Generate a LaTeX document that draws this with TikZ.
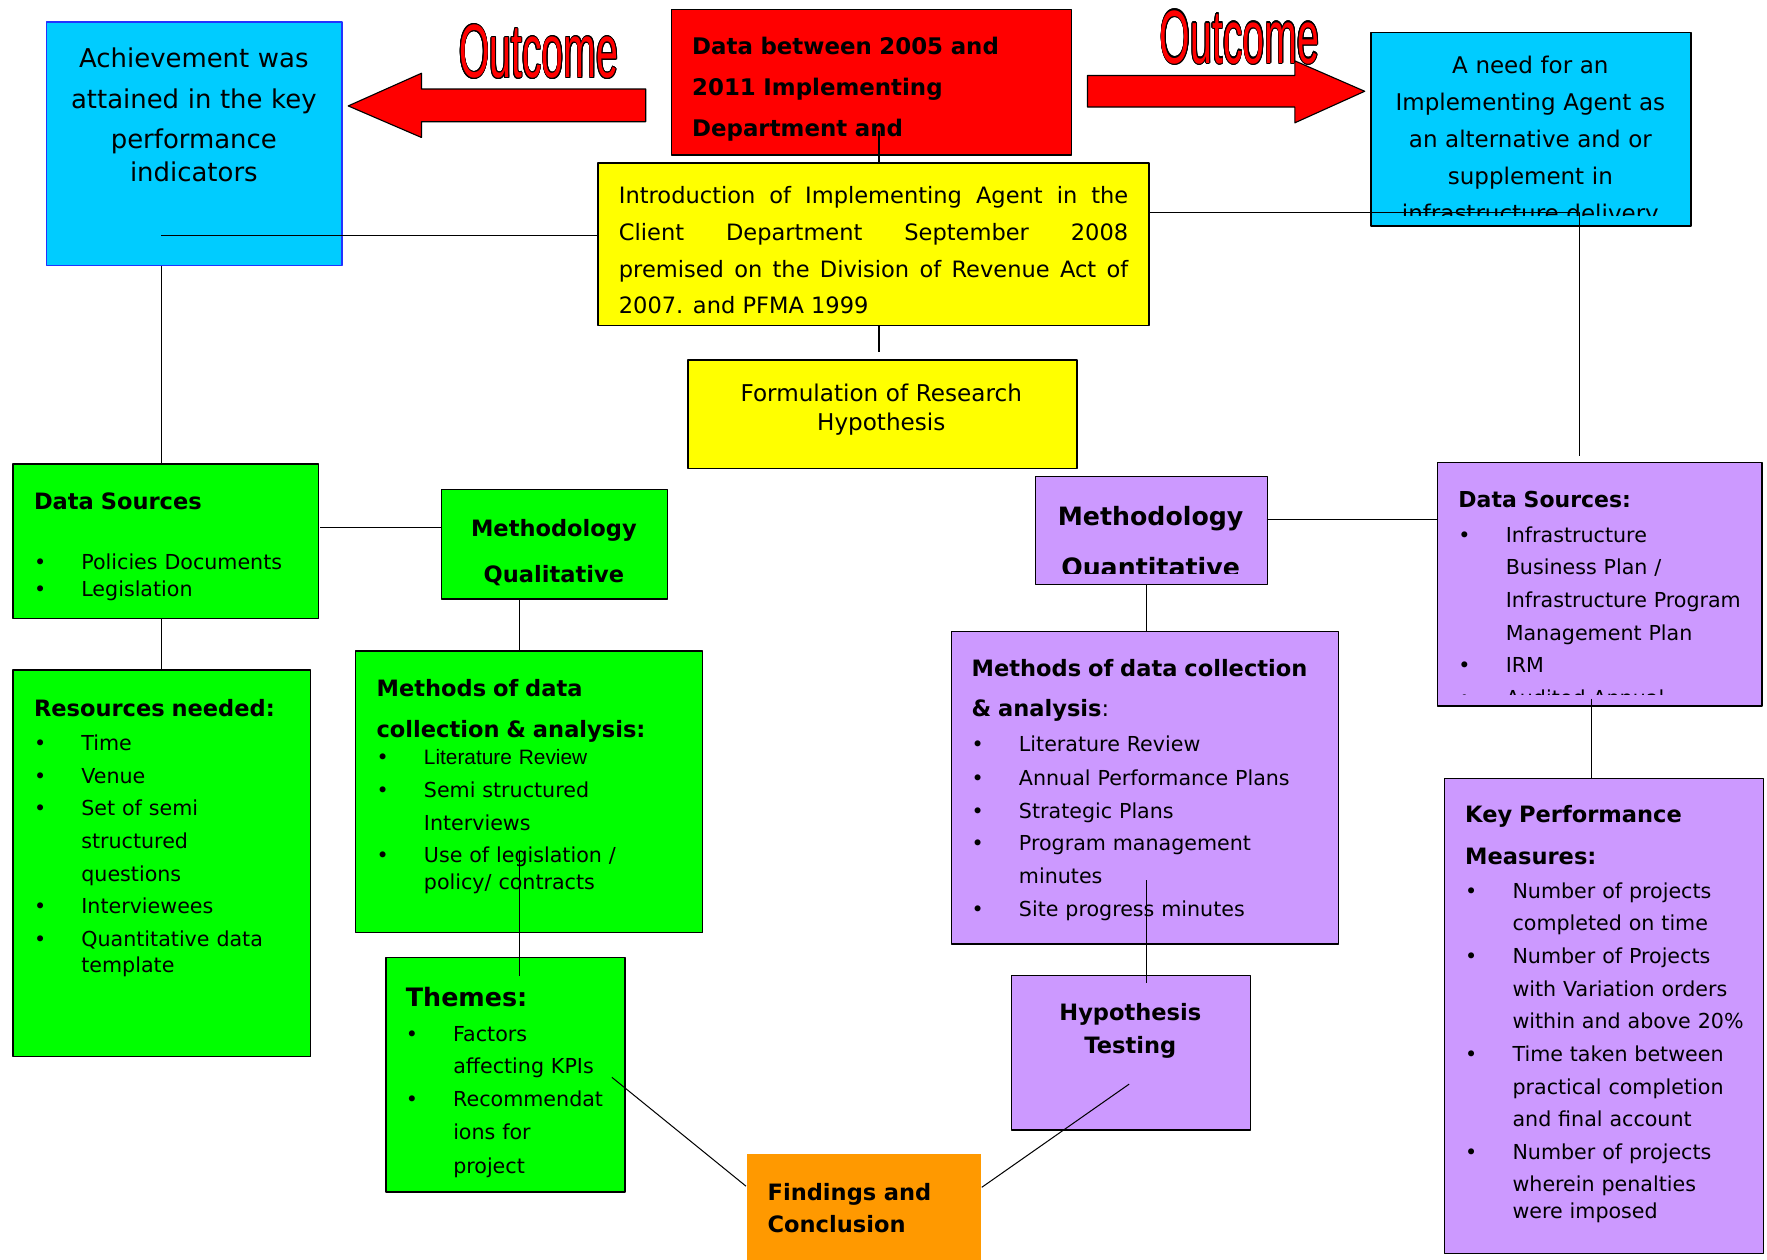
\documentclass[tikz,border=0pt]{standalone}
\usepackage{fontspec}
\setmainfont{DejaVu Sans}
\newfontfamily\wordart{Liberation Sans}
\newfontfamily\arialf{Liberation Sans}
\usepackage{graphicx}
\usepackage{contour}
\contourlength{1.1pt}

\definecolor{skyc}{HTML}{00CCFF}
\definecolor{achblue}{HTML}{2233FF}
\definecolor{redc}{HTML}{FF0000}
\definecolor{yelc}{HTML}{FFFF00}
\definecolor{grnc}{HTML}{00FF00}
\definecolor{purc}{HTML}{CC99FF}
\definecolor{orac}{HTML}{FF9900}

\tikzset{
  box/.style={draw=black, line width=1.2pt, inner sep=0pt, anchor=north west},
  txt/.style={anchor=base west, inner sep=0pt, align=left, text width=#1,
    font=\fontsize{18.3}{29}\selectfont},
  ctr/.style={anchor=base, inner sep=0pt, align=center, text width=#1},
  outcome/.style={anchor=base, inner sep=0pt, text=red,
    font=\wordart\fontsize{67}{67}\selectfont},
  link/.style={draw=black, line width=0.9pt},
  blockarrow/.style={fill=red, draw=black, line width=1pt}
}

% lines of the list boxes
\newcommand{\boxtop}[2][20]{\noindent{\fontsize{#1}{#1}\selectfont\bfseries #2}}
\newcommand{\boxhead}[2][20]{\par\noindent{\fontsize{#1}{#1}\selectfont\bfseries #2}}
\newcommand{\boxitem}[1]{\par\noindent\makebox[42pt][l]{\textbullet}#1}
\newcommand{\boxcont}[1]{\par\noindent\hspace*{42pt}#1}
\newcommand{\gap}[1]{\par\vspace{#1pt}}
\newcommand{\wordarttext}[1]{\scalebox{0.52}[1]{\contour{black}{#1}}}

\begin{document}
\begin{tikzpicture}[x=1pt, y=-1pt, line join=round]
\useasboundingbox (0,0) rectangle (1568,1118);

% boxes
\node[box, fill=skyc, draw=achblue, line width=1pt, minimum width=262pt, minimum height=216pt] (achL) at (41,19) {};
\node[box, fill=redc, minimum width=355pt, minimum height=129pt] (dataR) at (595,8) {};
\node[box, fill=skyc, minimum width=284pt, minimum height=172pt] (needR) at (1216,28) {};
\node[box, fill=yelc, minimum width=489pt, minimum height=144pt] (intro) at (530,144) {};
\node[box, fill=yelc, minimum width=345pt, minimum height=96pt] (hypF) at (610,319) {};
\node[box, fill=grnc, minimum width=271pt, minimum height=137pt] (dsG) at (11,411) {};
\node[box, fill=grnc, minimum width=201pt, minimum height=97pt] (mqual) at (391,434) {};
\node[box, fill=grnc, minimum width=264pt, minimum height=343pt] (resG) at (11,594) {};
\node[box, fill=grnc, minimum width=308pt, minimum height=250pt] (mdG) at (315,577) {};
\node[box, fill=grnc, minimum width=212pt, minimum height=208pt] (themes) at (342,849) {};
\node[box, fill=orac, draw=none, minimum width=208pt, minimum height=100pt] (findings) at (662,1023) {};
\node[box, fill=purc, minimum width=206pt, minimum height=96pt] (mquan) at (918,422) {};
\node[box, fill=purc, minimum width=343pt, minimum height=277pt] (mdP) at (844,560) {};
\node[box, fill=purc, minimum width=212pt, minimum height=137pt] (hypT) at (897,865) {};
\node[box, fill=purc, minimum width=288pt, minimum height=216pt] (dsP) at (1275,410) {};
\node[box, fill=purc, minimum width=283pt, minimum height=422pt] (kpm) at (1281,690) {};

% texts
\node[ctr=260pt, font=\fontsize{23}{36}\selectfont] (achLT) at (172,60)
  {Achievement was\\attained in the key\\performance\\[-7pt]indicators};
\node[txt=330pt, font=\fontsize{20.3}{36.5}\selectfont\bfseries] (dataRT) at (614,48)
  {Data between 2005 and\\2011 Implementing\\Department and};
\begin{scope}
  \clip (needR.north west) rectangle (1500,191);
  \node[ctr=280pt, font=\fontsize{20.4}{33}\selectfont] (needRT) at (1358,65)
    {A need for an\\Implementing Agent as\\an alternative and or\\supplement in\\infrastructure delivery};
\end{scope}
\node[txt=452pt, align=justify, font=\fontsize{20}{32.5}\selectfont] (introT) at (549,181)
  {Introduction of Implementing Agent in the\linebreak Client Department September 2008\linebreak
   premised on the Division of Revenue Act of\linebreak 2007. and PFMA 1999};
\node[ctr=330pt, font=\fontsize{20.5}{26}\selectfont] (hypFT) at (782,356)
  {Formulation of Research\\Hypothesis};
\node[txt=250pt] (dsGT) at (30,452)
  {\boxtop{Data Sources}\gap{24}\boxitem{Policies Documents}\gap{-5}\boxitem{Legislation}};
\node[ctr=190pt, font=\fontsize{20}{41}\selectfont\bfseries] (mqualT) at (491.5,476)
  {Methodology\\Qualitative};
\node[txt=240pt] (resGT) at (30,636)
  {\boxtop{Resources needed:}\gap{1}\boxitem{Time}\boxitem{Venue}\boxitem{Set of semi}
   \boxcont{structured}\boxcont{questions}\boxitem{Interviewees}\boxitem{Quantitative data}
   \gap{-6}\boxcont{template}};
\node[txt=285pt] (mdGT) at (334,618)
  {\boxtop{Methods of data}\gap{7}\boxhead{collection \& analysis:}\gap{-5}
   \boxitem{{\arialf\fontsize{18.5}{29}\selectfont Literature Review}}\gap{1}
   \boxitem{Semi structured}\boxcont{Interviews}\gap{-1}\boxitem{Use of legislation /}
   \gap{-5}\boxcont{policy/ contracts}};
\node[txt=190pt] (themesT) at (360,893)
  {\boxtop[22.5]{Themes:}\gap{2}\boxitem{Factors}\boxcont{affecting KPIs}
   \boxitem{Recommendat}\boxcont{ions for}\gap{1}\boxcont{project}};
\node[txt=190pt, font=\fontsize{20}{29}\selectfont\bfseries] (findT) at (681,1065)
  {Findings and\\Conclusion};
\begin{scope}
  \clip (mquan.north west) rectangle (1124,509);
  \node[ctr=200pt, font=\fontsize{22.4}{46}\selectfont\bfseries] (mquanT) at (1021,466)
    {Methodology\\Quantitative};
\end{scope}
\node[txt=320pt] (mdPT) at (862,600)
  {\boxtop{Methods of data collection}\gap{7}\boxhead{\& analysis}{\fontsize{20}{20}\selectfont:}
   \gap{2}\boxitem{Literature Review}\gap{1}\boxitem{Annual Performance Plans}
   \boxitem{Strategic Plans}\boxitem{Program management}\boxcont{minutes}
   \boxitem{Site progress minutes}};
\node[ctr=200pt, font=\fontsize{20}{29}\selectfont\bfseries] (hypTT) at (1003,906)
  {Hypothesis\\Testing};
\begin{scope}
  \clip (dsP.north west) rectangle (1563,616);
  \node[txt=265pt] (dsPT) at (1294,450)
    {\boxtop[19.5]{Data Sources:}\gap{2}\boxitem{Infrastructure}\boxcont{Business Plan /}
     \boxcont{Infrastructure Program}\boxcont{Management Plan}\boxitem{IRM}\boxitem{Audited Annual}};
\end{scope}
\node[txt=262pt] (kpmT) at (1300,730)
  {\boxtop{Key Performance}\gap{8}\boxhead{Measures:}\gap{1}
   \boxitem{Number of projects}\boxcont{completed on time}
   \boxitem{Number of Projects}\boxcont{with Variation orders}\boxcont{within and above 20\%}
   \boxitem{Time taken between}\boxcont{practical completion}\boxcont{and final account}
   \boxitem{Number of projects}\gap{-1}\boxcont{wherein penalties}\gap{-5}\boxcont{were imposed}};

% outcome arrows
\draw[blockarrow] (573,79) -- (374,79) -- (374,65) -- (309,94) -- (374,122) -- (374,108) -- (573,108) -- cycle;
\draw[blockarrow] (965,67) -- (1149,67) -- (1149,54) -- (1211,81) -- (1149,109) -- (1149,95) -- (965,95) -- cycle;
\node[outcome] (outL) at (478,69) {\wordarttext{Outcome}};
\node[outcome] (outR) at (1100,56) {\wordarttext{Outcome}};

% connectors
\coordinate (achIn) at (143,209);
\coordinate (dataIn) at (780,116);
\coordinate (hypTop) at (780,312);
\coordinate (needIn) at (1402,189);
\coordinate (needDn) at (1402,405);
\coordinate (dsGR) at (284,468);
\coordinate (mdGIn) at (461,756);
\coordinate (themesIn) at (461,866);
\coordinate (themesOut) at (543,956);
\coordinate (hypTIn) at (1002,962);
\coordinate (mqR) at (1124,461);
\coordinate (mdPIn) at (1017,781);
\coordinate (hypTTop) at (1017,872);
\coordinate (kpmIn) at (1412,620);

\draw[link] (achIn) -- (achIn -| intro.west);
\draw[link] (achIn |- achL.south) -- (achIn |- dsG.north);
\draw[link] (dataIn) -- (dataIn |- intro.north);
\draw[link] (hypTop |- intro.south) -- (hypTop);
\draw[link] (intro.east |- needIn) -- (needIn) -- (needDn);
\draw[link] (dsGR) -- (dsGR -| mqual.west);
\draw[link] (achIn |- dsG.south) -- (achIn |- resG.north);
\draw[link] (mdGIn |- mqual.south) -- (mdGIn |- mdG.north);
\draw[link] (mdGIn) -- (themesIn);
\draw[link] (themesOut) -- ([yshift=21pt]findings.west);
\draw[link] ([yshift=20pt]findings.east) -- (hypTIn);
\draw[link] (mqR) -- (mqR -| dsP.west);
\draw[link] (mdPIn |- mquan.south) -- (mdPIn |- mdP.north);
\draw[link] (mdPIn) -- (hypTTop);
\draw[link] (kpmIn) -- (kpmIn |- kpm.north);
\end{tikzpicture}
\end{document}
